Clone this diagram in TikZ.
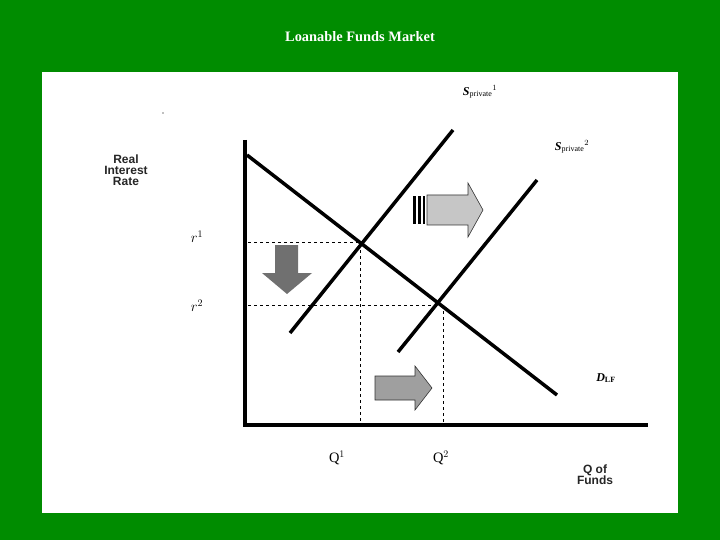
\documentclass[tikz,border=0pt]{standalone}
\usepackage{fontspec}
\setmainfont{Liberation Serif}
\setsansfont{Liberation Sans}
\begin{document}
\begin{tikzpicture}[x=1pt,y=-1pt,
  ln/.style={line width=3.5pt,black},
  dsh/.style={dashed,line width=0.8pt},
  garrow/.style={fill=gray!70,draw=gray!40!black,line width=0.6pt},
  lbl/.style={font=\sffamily\bfseries\large,text=black!85,align=center}]
\useasboundingbox (0,0) rectangle (720,540);
\fill[green!55!black] (0,0) rectangle (720,540);
\fill[white] (42,72) rectangle (678,513);
\node (title) at (360,37) {\color{white}\bfseries\Large Loanable Funds Market};
\coordinate (ytop) at (245,140); \coordinate (org) at (245,425); \coordinate (xend) at (648,425);
\draw[ln] (ytop) -- (org) -- (xend);
\coordinate (d0) at (247,155); \coordinate (d1) at (557,395);
\coordinate (s10) at (290,333); \coordinate (s11) at (453,130);
\coordinate (s20) at (398,352); \coordinate (s21) at (537,180);
\draw[ln] (d0) -- (d1);
\draw[ln] (s10) -- (s11);
\draw[ln] (s20) -- (s21);
\coordinate (e1) at (360,242); \coordinate (e2) at (442,305);
\draw[dsh] (248,242) -- (e1) -- (360,425);
\draw[dsh] (248,305) -- (e2);
\draw[dsh] (443,305) -- (443,425);
\fill[gray!60!black!80] (275,245) -- (298,245) -- (298,273) -- (312,273) -- (287,294) -- (262,273) -- (275,273) -- cycle;
\fill[black] (413,196) rectangle (416,224); \fill[black] (418,196) rectangle (421,224); \fill[black] (423,196) rectangle (425,224);
\draw[garrow,fill=gray!45] (427,195) -- (468,195) -- (468,183) -- (483,210) -- (468,237) -- (468,225) -- (427,225) -- cycle;
\draw[garrow,fill=gray!75] (375,376) -- (415,376) -- (415,366) -- (432,388) -- (415,410) -- (415,400) -- (375,400) -- cycle;
\node[lbl] (yl) at (126,170) {Real\\[-3pt]Interest\\[-3pt]Rate};
\node[lbl] (xl) at (595,475) {Q of\\[-3pt]Funds};
\node[font=\Large] (q1) at (337,458) {Q$^1$};
\node[font=\Large] (q2) at (441,458) {Q$^2$};
\node[font=\Large] (r1) at (197,237) {$r^1$};
\node[font=\Large] (r2) at (197,306) {$r^2$};
\node[font=\large] (dl) at (606,378) {\textbf{\textit{D}}\textsubscript{\bfseries LF}};
\node[font=\large] (sp1) at (480,92) {\textbf{\textit{S}}\textsubscript{private}$^1$};
\node[font=\large] (sp2) at (572,147) {\textbf{\textit{S}}\textsubscript{private}$^2$};
\fill[gray] (163,113) circle (0.8);
\end{tikzpicture}
\end{document}
